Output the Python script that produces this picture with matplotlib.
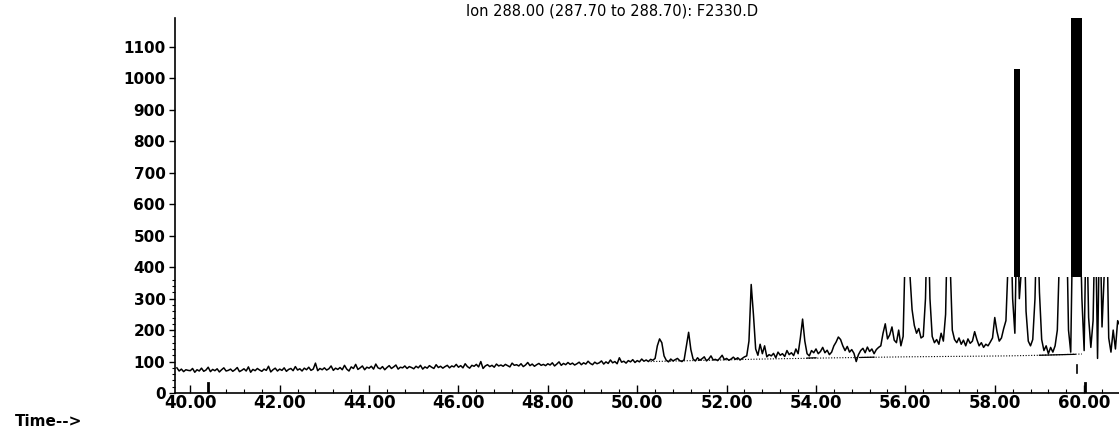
#!/usr/bin/env python3
# coding: utf-8
import numpy as np
import matplotlib
matplotlib.use('Agg')
import matplotlib.pyplot as plt
from matplotlib.patches import Rectangle
from matplotlib.ticker import MultipleLocator, FixedLocator

# ion trace, one value every 0.05 min from 39.70 to 60.80
t_start, t_end = 39.70, 60.80
abund_39 = [80, 70, 76, 68, 74, 72]
abund_40 = [71, 78, 66, 74, 70, 79, 69, 73, 82, 68, 75, 71, 77, 67, 74, 80, 70, 72, 76, 69]
abund_41 = [74, 81, 68, 72, 77, 70, 83, 66, 75, 71, 78, 73, 69, 76, 72, 85, 67, 74, 79, 70]
abund_42 = [76, 72, 80, 69, 75, 78, 71, 84, 73, 77, 70, 79, 74, 82, 72, 76, 95, 71, 78, 74]
abund_43 = [80, 73, 77, 86, 72, 79, 75, 81, 74, 88, 76, 70, 83, 78, 91, 75, 80, 86, 74, 82]
abund_44 = [79, 85, 76, 92, 80, 77, 84, 74, 81, 87, 78, 83, 89, 76, 82, 80, 86, 78, 84, 81]
abund_45 = [77, 85, 80, 88, 76, 83, 79, 87, 82, 78, 90, 81, 85, 79, 84, 88, 80, 86, 83, 91]
abund_46 = [82, 87, 80, 93, 84, 79, 88, 85, 91, 83, 100, 78, 86, 90, 84, 88, 82, 92, 86, 89]
abund_47 = [85, 91, 87, 83, 95, 88, 90, 86, 93, 84, 89, 97, 87, 92, 85, 90, 94, 88, 91, 87]
abund_48 = [93, 89, 96, 86, 92, 99, 88, 94, 90, 97, 91, 95, 89, 93, 98, 90, 96, 92, 101, 94]
abund_49 = [90, 98, 93, 96, 102, 92, 99, 94, 105, 96, 100, 93, 112, 98, 101, 95, 103, 99, 106, 97]
abund_50 = [103, 99, 108, 101, 105, 100, 107, 104, 110, 150, 172, 160, 118, 104, 99, 108, 102, 106, 110, 103]
abund_51 = [100, 106, 150, 193, 138, 108, 102, 112, 104, 109, 115, 102, 108, 118, 105, 107, 103, 111, 120, 106]
abund_52 = [110, 104, 108, 114, 107, 112, 105, 110, 115, 118, 165, 345, 250, 140, 120, 155, 125, 150, 115, 122]
abund_53 = [118, 126, 112, 130, 120, 125, 116, 135, 122, 128, 119, 140, 125, 175, 235, 165, 125, 118, 135, 128]
abund_54 = [140, 125, 132, 145, 128, 136, 122, 130, 150, 162, 178, 170, 150, 135, 148, 130, 138, 126, 100, 122]
abund_55 = [135, 142, 128, 146, 132, 140, 125, 138, 145, 150, 190, 220, 172, 185, 210, 168, 160, 200, 150, 180]
abund_56 = [480, 650, 380, 265, 215, 190, 205, 175, 180, 300, 620, 300, 180, 160, 170, 155, 190, 165, 250, 600]
abund_57 = [420, 200, 170, 160, 175, 155, 168, 150, 172, 158, 165, 195, 170, 150, 160, 145, 155, 150, 162, 175]
abund_58 = [240, 195, 165, 175, 205, 230, 420, 600, 300, 190, 600, 300, 400, 600, 260, 165, 150, 170, 300, 600]
abund_59 = [320, 170, 135, 150, 125, 145, 130, 150, 200, 450, 600, 380, 600, 200, 130, 600, 600, 600, 600, 300]
abund_60 = [135, 600, 240, 145, 230, 600, 110, 600, 210, 380, 600, 175, 130, 200, 140, 230, 215]

# integration baseline drawn under the late peaks
base_t = [50.30, 52.80, 54.50, 56.00, 58.30, 59.00, 59.95]
base_v = [100, 108, 112, 115, 118, 120, 124]
solid_t = [(53.80, 54.00), (55.00, 55.30), (59.00, 59.80)]
solid_v = [(111, 112), (113, 114), (120, 123)]

# saturated peaks printed as black bars
bar_t = [58.50, 59.83]
bar_w = [0.12, 0.25]
bar_top = [1030, 1200]
clip_level = 370

# event marks under the trace
mark_t = [40.40, 60.02]
small_mark_t = 59.85

yticks = list(range(0, 1200, 100))
xticks = [40, 42, 44, 46, 48, 50, 52, 54, 56, 58, 60]


def main():
    abund = (abund_39 + abund_40 + abund_41 + abund_42 + abund_43 + abund_44 + abund_45
             + abund_46 + abund_47 + abund_48 + abund_49 + abund_50 + abund_51 + abund_52
             + abund_53 + abund_54 + abund_55 + abund_56 + abund_57 + abund_58 + abund_59
             + abund_60)
    time = np.linspace(t_start, t_end, len(abund))

    fig = plt.figure(figsize=(11.19, 4.36), dpi=100)
    ax = fig.add_axes([0.1565, 0.0986, 0.8435, 0.86])

    line, = ax.plot(time, abund, color='black', lw=1.1)
    clip = Rectangle((39, -50), 30, clip_level + 50, transform=ax.transData)
    line.set_clip_path(clip)

    ax.plot(base_t, base_v, color='black', lw=0.8, ls=(0, (1, 1.5)))
    for (a, b), (va, vb) in zip(solid_t, solid_v):
        ax.plot([a, b], [va, vb], color='black', lw=0.9)

    for x, w, top in zip(bar_t, bar_w, bar_top):
        ax.bar(x, top - clip_level, bottom=clip_level, width=w, color='black')

    for x in mark_t:
        ax.plot([x, x], [0, 32], color='black', lw=2)
    ax.plot([small_mark_t, small_mark_t], [63, 88], color='black', lw=1.2)

    ax.set_xlim(39.66, 60.78)
    ax.set_ylim(0, 1192)
    ax.spines['top'].set_visible(False)
    ax.spines['right'].set_visible(False)
    ax.spines['left'].set_linewidth(1.2)
    ax.spines['bottom'].set_linewidth(1.2)

    ax.set_xticks(xticks)
    ax.set_xticklabels(['%.2f' % x for x in xticks], fontweight='bold', fontsize=12)
    ax.xaxis.set_minor_locator(MultipleLocator(0.4))
    ax.tick_params(axis='x', which='major', direction='in', length=6, width=1, pad=1)
    ax.tick_params(axis='x', which='minor', direction='in', length=3, width=0.8)

    ax.set_yticks(yticks)
    ax.set_yticklabels([str(y) for y in yticks], fontweight='bold', fontsize=11)
    ax.yaxis.set_minor_locator(FixedLocator(list(range(20, 370, 20))))
    ax.tick_params(axis='y', which='major', direction='out', length=4, width=1, pad=3)
    ax.tick_params(axis='y', which='minor', direction='out', length=2, width=0.8)

    fig.text(0.547, 0.975, 'Ion 288.00 (287.70 to 288.70): F2330.D',
             ha='center', va='center', fontsize=10.5)
    fig.text(0.013, 0.034, 'Time-->', ha='left', va='center',
             fontsize=11, fontweight='bold')

    plt.savefig('out.png', dpi=100)


if __name__ == '__main__':
    main()
